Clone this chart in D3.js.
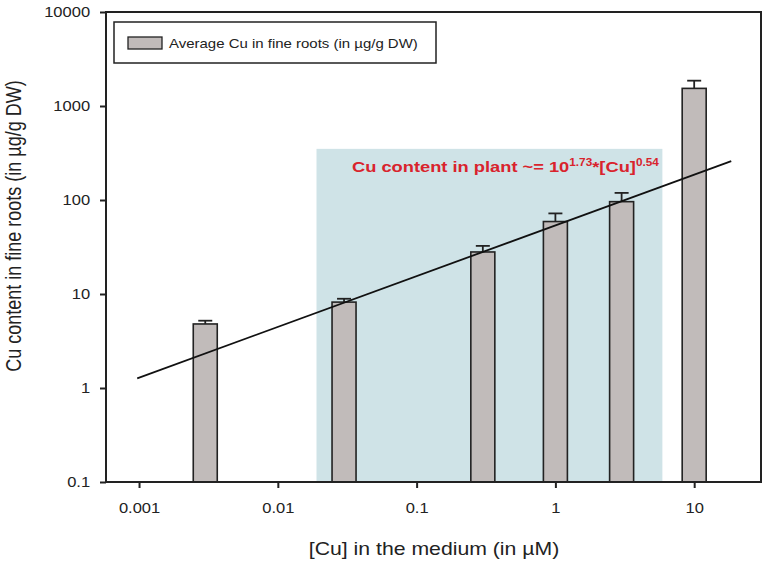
<!DOCTYPE html>
<html>
<head>
<meta charset="utf-8">
<script src="https://cdn.jsdelivr.net/npm/d3@7"></script>
<style>
  body { margin: 0; background: #fff; }
  svg { display: block; font-family: "Liberation Sans", Arial, sans-serif; }
</style>
</head>
<body>
<div id="chart"></div>
<script>
// concentrations in the medium (µM) and measured Cu in fine roots (µg/g DW)
const concentrations = [0.003, 0.03, 0.3, 1, 3, 10];
const cuAverage = [4.8, 8.2, 28, 59, 96, 1540];
const cuUpper = [5.2, 8.9, 32.5, 72, 119, 1860];

const xTicks = [0.001, 0.01, 0.1, 1, 10];
const yTicks = [0.1, 1, 10, 100, 1000, 10000];

// fitted power law: 10^1.73 * [Cu]^0.54
const fitIntercept = 1.73;
const fitSlope = 0.54;
const fitRange = [0.00097, 18.5];

// shaded range where the fit applies
const shadeX = [0.019, 5.9];
const shadeY = [0.1, 350];

const width = 768, height = 565;
const margin = { top: 12, right: 7, bottom: 83, left: 106 };
const stretch = 1.18; // text in the reference is widened horizontally

const svg = d3.select("#chart").append("svg")
  .attr("width", width)
  .attr("height", height);

const x = d3.scaleLog()
  .domain([0.000578, 30.3])
  .range([margin.left, width - margin.right]);

const y = d3.scaleLog()
  .domain([0.1, 10000])
  .range([height - margin.bottom, margin.top]);

const ink = "#222";

// shaded region
svg.append("rect")
  .attr("x", x(shadeX[0]))
  .attr("y", y(shadeY[1]))
  .attr("width", x(shadeX[1]) - x(shadeX[0]))
  .attr("height", y(shadeY[0]) - y(shadeY[1]))
  .attr("fill", "#cfe3e7");

// bars
const barW = 24;
svg.selectAll("rect.bar")
  .data(concentrations)
  .enter().append("rect")
  .attr("class", "bar")
  .attr("x", d => x(d) - barW / 2)
  .attr("y", (d, i) => y(cuAverage[i]))
  .attr("width", barW)
  .attr("height", (d, i) => y(0.1) - y(cuAverage[i]))
  .attr("fill", "#c1bbba")
  .attr("stroke", ink)
  .attr("stroke-width", 1.6);

// error bars (upper only)
const err = svg.selectAll("g.err")
  .data(concentrations)
  .enter().append("g")
  .attr("class", "err")
  .attr("stroke", ink)
  .attr("stroke-width", 1.8);

err.append("line")
  .attr("x1", d => x(d)).attr("x2", d => x(d))
  .attr("y1", (d, i) => y(cuAverage[i]))
  .attr("y2", (d, i) => y(cuUpper[i]));

err.append("line")
  .attr("x1", d => x(d) - 7).attr("x2", d => x(d) + 7)
  .attr("y1", (d, i) => y(cuUpper[i]))
  .attr("y2", (d, i) => y(cuUpper[i]));

// fit line
const fit = x0 => Math.pow(10, fitIntercept) * Math.pow(x0, fitSlope);
svg.append("line")
  .attr("x1", x(fitRange[0])).attr("y1", y(fit(fitRange[0])))
  .attr("x2", x(fitRange[1])).attr("y2", y(fit(fitRange[1])))
  .attr("stroke", "#111")
  .attr("stroke-width", 1.8);

// frame
svg.append("rect")
  .attr("x", margin.left)
  .attr("y", margin.top)
  .attr("width", width - margin.left - margin.right)
  .attr("height", height - margin.top - margin.bottom)
  .attr("fill", "none")
  .attr("stroke", ink)
  .attr("stroke-width", 2);

// axes
const yAxis = svg.append("g")
  .attr("transform", `translate(${margin.left},0)`)
  .call(d3.axisLeft(y).tickValues(yTicks).tickFormat(d3.format("~g")).tickSize(6));
yAxis.select(".domain").remove();
yAxis.selectAll("line").attr("stroke", ink).attr("stroke-width", 2);
yAxis.selectAll("text")
  .attr("x", -13.5)
  .attr("transform", `scale(${stretch},1)`)
  .style("font-size", "14px")
  .attr("fill", ink);

const xAxis = svg.append("g")
  .attr("transform", `translate(0,${height - margin.bottom})`)
  .call(d3.axisBottom(x).tickValues(xTicks).tickFormat(d3.format("~g")).tickSize(6));
xAxis.select(".domain").remove();
xAxis.selectAll("line").attr("stroke", ink).attr("stroke-width", 2);
xAxis.selectAll("text")
  .attr("y", 21)
  .attr("transform", `scale(${stretch},1)`)
  .style("font-size", "14px")
  .attr("fill", ink);

// axis titles
svg.append("text")
  .attr("transform", `translate(434,555) scale(${stretch},1)`)
  .attr("text-anchor", "middle")
  .style("font-size", "18px")
  .attr("fill", ink)
  .text("[Cu] in the medium (in µM)");

svg.append("text")
  .attr("transform", `translate(21,226) scale(${stretch},1) rotate(-90)`)
  .attr("text-anchor", "middle")
  .style("font-size", "18px")
  .attr("fill", ink)
  .text("Cu content in fine roots (in µg/g DW)");

// legend
svg.append("rect")
  .attr("x", 114).attr("y", 22)
  .attr("width", 322).attr("height", 41)
  .attr("fill", "#fff")
  .attr("stroke", ink)
  .attr("stroke-width", 1.5);
svg.append("rect")
  .attr("x", 128).attr("y", 37)
  .attr("width", 34).attr("height", 12)
  .attr("fill", "#c1bbba")
  .attr("stroke", ink)
  .attr("stroke-width", 1.3);
svg.append("text")
  .attr("transform", `translate(169,48) scale(${stretch},1)`)
  .style("font-size", "12.7px")
  .attr("fill", ink)
  .text("Average Cu in fine roots (in µg/g DW)");

// equation
const eq = svg.append("text")
  .attr("transform", `translate(352,172) scale(${stretch},1)`)
  .style("font-size", "15.5px")
  .style("font-weight", "bold")
  .attr("fill", "#d9232d");
eq.append("tspan").text("Cu content in plant ~= 10");
eq.append("tspan").attr("dy", -6).style("font-size", "10px").text("1.73");
eq.append("tspan").attr("dy", 6).text("*[Cu]");
eq.append("tspan").attr("dy", -6).style("font-size", "10px").text("0.54");
</script>
</body>
</html>
